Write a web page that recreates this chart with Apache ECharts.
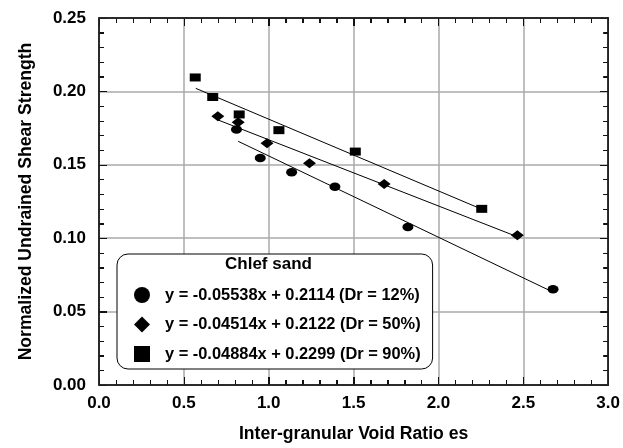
<!DOCTYPE html>
<html>
<head>
<meta charset="utf-8">
<script src="https://cdn.jsdelivr.net/npm/echarts@6/dist/echarts.min.js"></script>
<style>html,body{margin:0;padding:0;background:#fff}#c{width:623px;height:448px}</style>
</head>
<body>
<div id="c"></div>
<script>
// Data
var dr12X = [0.81, 0.95, 1.135, 1.39, 1.82, 2.675];
var dr12Y = [0.174, 0.1547, 0.145, 0.135, 0.1077, 0.0653];
var dr50X = [0.70, 0.82, 0.99, 1.24, 1.68, 2.465];
var dr50Y = [0.1831, 0.179, 0.1647, 0.1511, 0.137, 0.102];
var dr90X = [0.567, 0.67, 0.826, 1.06, 1.51, 2.255];
var dr90Y = [0.2095, 0.1962, 0.1843, 0.1736, 0.159, 0.120];
// Fitted line end points
var fit12X = [0.82, 2.68];
var fit12Y = [0.1660, 0.0630];
var fit50X = [0.70, 2.48];
var fit50Y = [0.1806, 0.1003];
var fit90X = [0.57, 2.26];
var fit90Y = [0.2021, 0.1195];
var legendNames = [
  'y = -0.05538x + 0.2114 (Dr = 12%)',
  'y = -0.04514x + 0.2122 (Dr = 50%)',
  'y = -0.04884x + 0.2299 (Dr = 90%)'
];
var legendTitle = 'Chlef sand';
var xTitle = 'Inter-granular Void Ratio es';
var yTitle = 'Normalized Undrained Shear Strength';
// Axis extents and tick marks (value, 1 = major)
var xMin = 0, xMax = 3, yMin = 0, yMax = 0.25;
var xTicks = [0,1, 0.1,0, 0.2,0, 0.3,0, 0.4,0, 0.5,1, 0.6,0, 0.7,0, 0.8,0, 0.9,0, 1.0,1,
  1.1,0, 1.2,0, 1.3,0, 1.4,0, 1.5,1, 1.6,0, 1.7,0, 1.8,0, 1.9,0, 2.0,1,
  2.1,0, 2.2,0, 2.3,0, 2.4,0, 2.5,1, 2.6,0, 2.7,0, 2.8,0, 2.9,0, 3.0,1];
var yTicks = [0,1, 0.01,0, 0.02,0, 0.03,0, 0.04,0, 0.05,1, 0.06,0, 0.07,0, 0.08,0, 0.09,0, 0.10,1,
  0.11,0, 0.12,0, 0.13,0, 0.14,0, 0.15,1, 0.16,0, 0.17,0, 0.18,0, 0.19,0, 0.20,1,
  0.21,0, 0.22,0, 0.23,0, 0.24,0, 0.25,1];

function pairs(xs, ys){ return xs.map(function(x,i){ return [x, ys[i]]; }); }

var FF = '"Liberation Sans", Arial, sans-serif';
var chart = echarts.init(document.getElementById('c'));

function axisCommon(extra){
  var o = {
    axisLine: {show: true, onZero: false, lineStyle: {color: '#222', width: 1.5}},
    axisTick: {show: true, inside: true, length: 8, lineStyle: {color: '#111', width: 1}},
    minorTick: {show: true, splitNumber: 5, length: 5, lineStyle: {color: '#111', width: 1}},
    splitLine: {show: false},
    minorSplitLine: {show: false}
  };
  for (var k in extra) o[k] = extra[k];
  return o;
}
var gridLine = {show: true, lineStyle: {color: '#aaa', width: 1.5}};

chart.setOption({
  animation: false,
  backgroundColor: '#fff',
  grid: {left: 99, top: 18, right: 13, bottom: 60, containLabel: false},
  xAxis: [
    axisCommon({
      type: 'value', min: xMin, max: xMax, interval: 0.5, position: 'bottom',
      name: xTitle, nameLocation: 'middle', nameGap: 40,
      nameTextStyle: {fontFamily: FF, fontWeight: 'bold', fontSize: 17.6, color: '#000'},
      axisLabel: {show: true, margin: 10, fontFamily: FF, fontWeight: 'bold', fontSize: 17, color: '#000',
        formatter: function(v){ return v.toFixed(1); }}
    }),
    axisCommon({
      type: 'value', min: xMin, max: xMax, interval: 0.5, position: 'top',
      axisLabel: {show: false}, splitLine: gridLine
    })
  ],
  yAxis: [
    axisCommon({
      type: 'value', min: yMin, max: yMax, interval: 0.05, position: 'left',
      name: yTitle, nameLocation: 'middle', nameGap: 64,
      nameTextStyle: {fontFamily: FF, fontWeight: 'bold', fontSize: 17.6, color: '#000'},
      axisLabel: {show: true, margin: 13, fontFamily: FF, fontWeight: 'bold', fontSize: 17, color: '#000',
        formatter: function(v){ return v.toFixed(2); }}
    }),
    axisCommon({
      type: 'value', min: yMin, max: yMax, interval: 0.05, position: 'right',
      axisLabel: {show: false}, splitLine: gridLine
    })
  ],
  legend: {
    orient: 'vertical',
    left: 117, top: 254,
    padding: [33, 12, 7, 17],
    itemWidth: 16, itemHeight: 16, itemGap: 13.5,
    backgroundColor: '#fff',
    borderColor: '#000', borderWidth: 1, borderRadius: 11,
    formatter: function(n){ return '{g|}' + n; },
    textStyle: {fontFamily: FF, fontWeight: 'bold', fontSize: 16.4, color: '#000',
      rich: {g: {width: 10}}},
    data: [
      {name: legendNames[0], icon: 'circle'},
      {name: legendNames[1], icon: 'diamond'},
      {name: legendNames[2], icon: 'rect'}
    ],
    selectedMode: false
  },
  series: [
    {type: 'line', name: 'fit12', data: pairs(fit12X, fit12Y), symbol: 'none',
      lineStyle: {color: '#000', width: 1}, z: 2},
    {type: 'line', name: 'fit50', data: pairs(fit50X, fit50Y), symbol: 'none',
      lineStyle: {color: '#000', width: 1}, z: 2},
    {type: 'line', name: 'fit90', data: pairs(fit90X, fit90Y), symbol: 'none',
      lineStyle: {color: '#000', width: 1}, z: 2},
    {type: 'scatter', name: legendNames[0], data: pairs(dr12X, dr12Y), symbol: 'circle',
      symbolSize: [11, 8.5], itemStyle: {color: '#000', opacity: 1}, z: 3},
    {type: 'scatter', name: legendNames[1], data: pairs(dr50X, dr50Y), symbol: 'diamond',
      symbolSize: [13, 10], itemStyle: {color: '#000', opacity: 1}, z: 3},
    {type: 'scatter', name: legendNames[2], data: pairs(dr90X, dr90Y), symbol: 'rect',
      symbolSize: [11, 8], itemStyle: {color: '#000', opacity: 1}, z: 3}
  ]
});

// Frame and tick marks placed through the chart's own axis scales
function px(v){ return chart.convertToPixel({xAxisIndex: 0}, v); }
function py(v){ return chart.convertToPixel({yAxisIndex: 0}, v); }
function crisp(v){ return Math.round(v) + 0.5; }
var tickStyle = {stroke: '#111', lineWidth: 1};
var gfx = [{
  type: 'text', left: 225, top: 256, z: 100,
  style: {text: legendTitle, font: 'bold 17px ' + FF, fill: '#000'}
}];
var L = px(xMin), R = px(xMax), T = py(yMax), B = py(yMin);
for (var i = 0; i < xTicks.length; i += 2) {
  var x = crisp(px(xTicks[i])), len = xTicks[i + 1] ? 8 : 5;
  gfx.push({type: 'line', silent: true, z: 50, shape: {x1: x, y1: B, x2: x, y2: B - len}, style: tickStyle});
  gfx.push({type: 'line', silent: true, z: 50, shape: {x1: x, y1: T, x2: x, y2: T + len}, style: tickStyle});
}
for (var j = 0; j < yTicks.length; j += 2) {
  var y = crisp(py(yTicks[j])), ylen = yTicks[j + 1] ? 8 : 5;
  gfx.push({type: 'line', silent: true, z: 50, shape: {x1: L, y1: y, x2: L + ylen, y2: y}, style: tickStyle});
  gfx.push({type: 'line', silent: true, z: 50, shape: {x1: R, y1: y, x2: R - ylen, y2: y}, style: tickStyle});
}
gfx.push({type: 'rect', silent: true, z: 51,
  shape: {x: L, y: T, width: R - L, height: B - T},
  style: {fill: 'transparent', stroke: '#222', lineWidth: 1.5}});
chart.setOption({graphic: gfx});
</script>
</body>
</html>
